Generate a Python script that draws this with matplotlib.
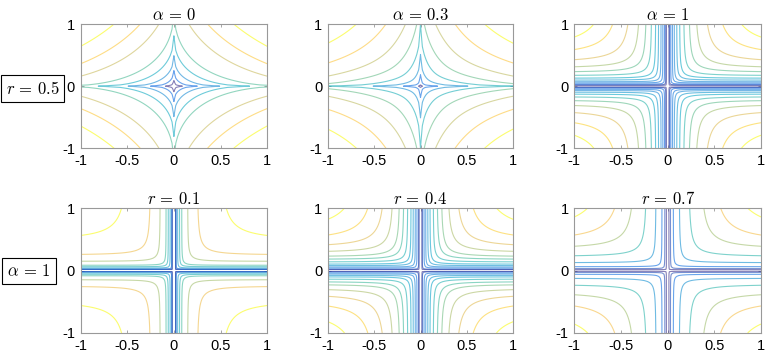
import numpy as np
import matplotlib
matplotlib.use('Agg')
import matplotlib.pyplot as plt
from matplotlib.colors import LinearSegmentedColormap

plt.rcParams['font.family'] = ['Liberation Sans', 'DejaVu Sans']
plt.rcParams['mathtext.fontset'] = 'cm'

# panel parameters: top row r fixed, bottom row alpha fixed
top_alpha = [0, 0.3, 1]
top_r = 0.5
bottom_r = [0.1, 0.4, 0.7]
bottom_alpha = 1

# contour levels
top_levels = [
    [0.3, 0.5, 0.7, 0.9, 1.1, 1.4, 1.6, 1.8],
    [0.1, 0.3, 0.5, 0.7, 0.9, 1.1, 1.3, 1.5],
    [0.1, 0.14, 0.18, 0.225, 0.265, 0.31, 0.355, 0.41, 0.47, 0.535, 0.61, 0.69, 0.76],
]
bottom_levels = [
    [0.62, 0.645, 0.685, 0.725, 0.755, 0.78, 0.825, 0.87, 0.93],
    [0.16, 0.2084, 0.27, 0.315, 0.36, 0.4, 0.45, 0.5, 0.545, 0.605, 0.67, 0.74, 0.815],
    [0.043, 0.085, 0.14, 0.23, 0.345, 0.465, 0.57, 0.685],
]

xticks = [-1, -0.5, 0, 0.5, 1]
yticks = [-1, 0, 1]

# parula (matlab default colormap), a few anchor points
parula_pts = [
    (0, (0.2081, 0.1663, 0.5292)),
    (8, (0.0117, 0.3875, 0.8820)),
    (16, (0.0793, 0.5200, 0.8312)),
    (24, (0.0228, 0.6535, 0.7768)),
    (32, (0.2178, 0.7250, 0.6193)),
    (40, (0.5709, 0.7485, 0.4494)),
    (48, (0.8507, 0.7299, 0.3360)),
    (53, (0.9938, 0.7455, 0.2403)),
    (56, (0.9880, 0.8066, 0.1794)),
    (63, (0.9763, 0.9831, 0.0538)),
]
parula = LinearSegmentedColormap.from_list(
    'parula', [(i / 63, c) for i, c in parula_pts])


def penalty(x, y, r, a):
    return np.abs(x)**r + np.abs(y)**r - a * (x**2 + y**2)**(r / 2)


g = np.linspace(-1, 1, 101)
X, Y = np.meshgrid(g, g)

fig = plt.figure(figsize=(7.65, 3.57), dpi=100)

lefts = [80.5, 327.7, 574.3]
widths = [186.8, 185.6, 186.7]
tops = [24, 208]
heights = [124.3, 125]

panels = []
for j in range(3):
    panels.append((0, j, top_r, top_alpha[j], top_levels[j],
                   r'$\alpha\,=\,%s$' % top_alpha[j]))
for j in range(3):
    panels.append((1, j, bottom_r[j], bottom_alpha, bottom_levels[j],
                   r'$r\,=\,%s$' % bottom_r[j]))

for row, col, r, a, lev, title in panels:
    W, H = 765.0, 357.0
    ax = fig.add_axes([lefts[col] / W, 1 - (tops[row] + heights[row]) / H,
                       widths[col] / W, heights[row] / H])
    Z = penalty(X, Y, r, a)
    ax.contour(X, Y, Z, levels=lev, cmap=parula, vmin=min(lev), vmax=max(lev),
               linewidths=0.8, alpha=0.6)
    ax.set_xlim(-1, 1)
    ax.set_ylim(-1, 1)
    ax.set_xticks(xticks)
    ax.set_xticklabels(['-1', '-0.5', '0', '0.5', '1'])
    ax.set_yticks(yticks)
    ax.set_yticklabels(['-1', '0', '1'])
    ax.tick_params(direction='in', length=2.5, width=0.6, top=True, right=True,
                   labelsize=10.5, colors='0.6', labelcolor='black', pad=4)
    for s in ax.spines.values():
        s.set_color('0.6')
        s.set_linewidth(0.8)
    ax.set_title(title, fontsize=12, pad=3)

box = dict(boxstyle='square,pad=0.3', fc='white', ec='black', lw=0.8)
fig.text(32.5 / 765, 1 - 88 / 357, r'$r\,=\,0.5$', fontsize=12, ha='center',
         va='center', bbox=box)
fig.text(29 / 765, 1 - 271 / 357, r'$\alpha\,=\,1$', fontsize=12, ha='center',
         va='center', bbox=box)

fig.savefig('out.png', dpi=100)
